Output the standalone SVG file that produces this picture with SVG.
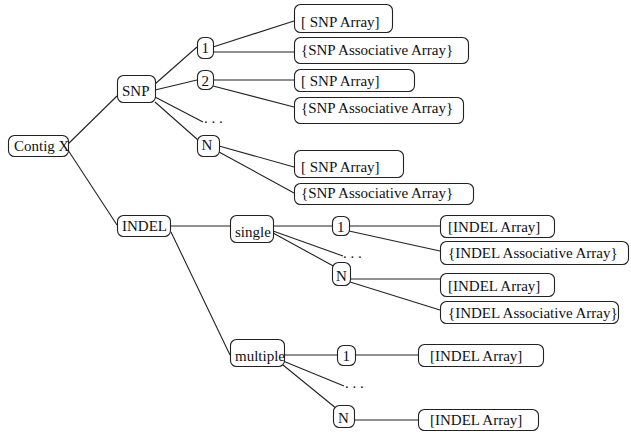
<svg xmlns="http://www.w3.org/2000/svg" width="631" height="432" viewBox="0 0 631 432">
<style>
rect{fill:#fff;stroke:#222;stroke-width:1.1}
text{font-family:"Liberation Serif","Times New Roman",serif;font-size:15px;fill:#111}
#edges line{stroke:#222;stroke-width:1.1}
</style>
<rect x="0" y="0" width="631" height="432" style="stroke:none"/>
<g id="edges">
<line x1="66" y1="146" x2="117" y2="96"/>
<line x1="66" y1="147" x2="117" y2="225"/>
<line x1="155" y1="84" x2="197" y2="47"/>
<line x1="155" y1="90" x2="197" y2="80"/>
<line x1="155" y1="97" x2="203" y2="122"/>
<line x1="155" y1="102" x2="198" y2="140"/>
<line x1="213" y1="47" x2="294" y2="21"/>
<line x1="213" y1="52" x2="294" y2="52"/>
<line x1="213" y1="80" x2="294" y2="80"/>
<line x1="213" y1="86" x2="294" y2="107"/>
<line x1="219" y1="146" x2="294" y2="167"/>
<line x1="219" y1="152" x2="294" y2="193"/>
<line x1="170" y1="226" x2="230" y2="226"/>
<line x1="171" y1="232" x2="230" y2="355"/>
<line x1="273" y1="226" x2="332" y2="226"/>
<line x1="273" y1="231" x2="343" y2="256"/>
<line x1="273" y1="233" x2="337" y2="268"/>
<line x1="349" y1="226" x2="440" y2="226"/>
<line x1="349" y1="231" x2="440" y2="251"/>
<line x1="350" y1="279" x2="440" y2="279"/>
<line x1="350" y1="282" x2="440" y2="310"/>
<line x1="284" y1="355" x2="337" y2="355"/>
<line x1="356" y1="355" x2="418" y2="355"/>
<line x1="283" y1="361" x2="344" y2="386"/>
<line x1="283" y1="365" x2="337" y2="409"/>
<line x1="354" y1="420" x2="418" y2="420"/>
</g>
<g id="contig"><rect x="8.5" y="135.5" width="60" height="21" rx="6"/><text x="14" y="151">Contig X</text></g>
<g id="snp"><rect x="117.5" y="75.5" width="38" height="27" rx="6"/><text x="122" y="96">SNP</text></g>
<g id="snp1"><rect x="197.5" y="37.5" width="16" height="21" rx="6"/><text x="201.5" y="53">1</text></g>
<g id="snp2"><rect x="197.5" y="70.5" width="16" height="19" rx="6"/><text x="201.5" y="86">2</text></g>
<g id="snpdots"><text x="204" y="123">. . .</text></g>
<g id="snpN"><rect x="197.5" y="135.5" width="22" height="21" rx="6"/><text x="201.5" y="150">N</text></g>
<g id="snp1a"><rect x="294.5" y="4.5" width="98" height="28" rx="6"/><text x="301" y="27">[ SNP Array]</text></g>
<g id="snp1b"><rect x="294.5" y="37.5" width="174" height="26" rx="6"/><text x="301" y="55">{SNP Associative Array}</text></g>
<g id="snp2a"><rect x="294.5" y="69.5" width="120" height="22" rx="6"/><text x="301" y="86">[ SNP Array]</text></g>
<g id="snp2b"><rect x="294.5" y="97.5" width="169" height="26" rx="6"/><text x="301" y="113">{SNP Associative Array}</text></g>
<g id="snpNa"><rect x="294.5" y="150.5" width="109" height="27" rx="6"/><text x="301" y="172">[ SNP Array]</text></g>
<g id="snpNb"><rect x="294.5" y="183.5" width="179" height="21" rx="6"/><text x="301" y="198">{SNP Associative Array}</text></g>
<g id="indel"><rect x="117.5" y="215.5" width="53" height="21" rx="6"/><text x="122" y="231">INDEL</text></g>
<g id="single"><rect x="230.5" y="215.5" width="43" height="27" rx="6"/><text x="235" y="237">single</text></g>
<g id="multiple"><rect x="230.5" y="339.5" width="54" height="27" rx="6"/><text x="235" y="361">multiple</text></g>
<g id="s1"><rect x="332.5" y="216.5" width="17" height="19" rx="6"/><text x="337" y="232">1</text></g>
<g id="sdots"><text x="343" y="258">. . .</text></g>
<g id="sN"><rect x="332.5" y="262.5" width="18" height="23" rx="6"/><text x="336" y="281">N</text></g>
<g id="s1a"><rect x="440.5" y="215.5" width="114" height="22" rx="6"/><text x="448" y="232">[INDEL Array]</text></g>
<g id="s1b"><rect x="440.5" y="241.5" width="188" height="23" rx="6"/><text x="448" y="258">{INDEL Associative Array}</text></g>
<g id="sNa"><rect x="440.5" y="273.5" width="114" height="23" rx="6"/><text x="448" y="291">[INDEL Array]</text></g>
<g id="sNb"><rect x="440.5" y="301.5" width="178" height="22" rx="6"/><text x="448" y="318">{INDEL Associative Array}</text></g>
<g id="m1"><rect x="337.5" y="345.5" width="18" height="20" rx="6"/><text x="342.5" y="361">1</text></g>
<g id="mdots"><text x="345" y="388">. . .</text></g>
<g id="mN"><rect x="333.5" y="405.5" width="21" height="22" rx="6"/><text x="338" y="423">N</text></g>
<g id="m1a"><rect x="418.5" y="344.5" width="125" height="22" rx="6"/><text x="430" y="361">[INDEL Array]</text></g>
<g id="mNa"><rect x="418.5" y="409.5" width="120" height="21" rx="6"/><text x="430" y="425">[INDEL Array]</text></g>
</svg>
